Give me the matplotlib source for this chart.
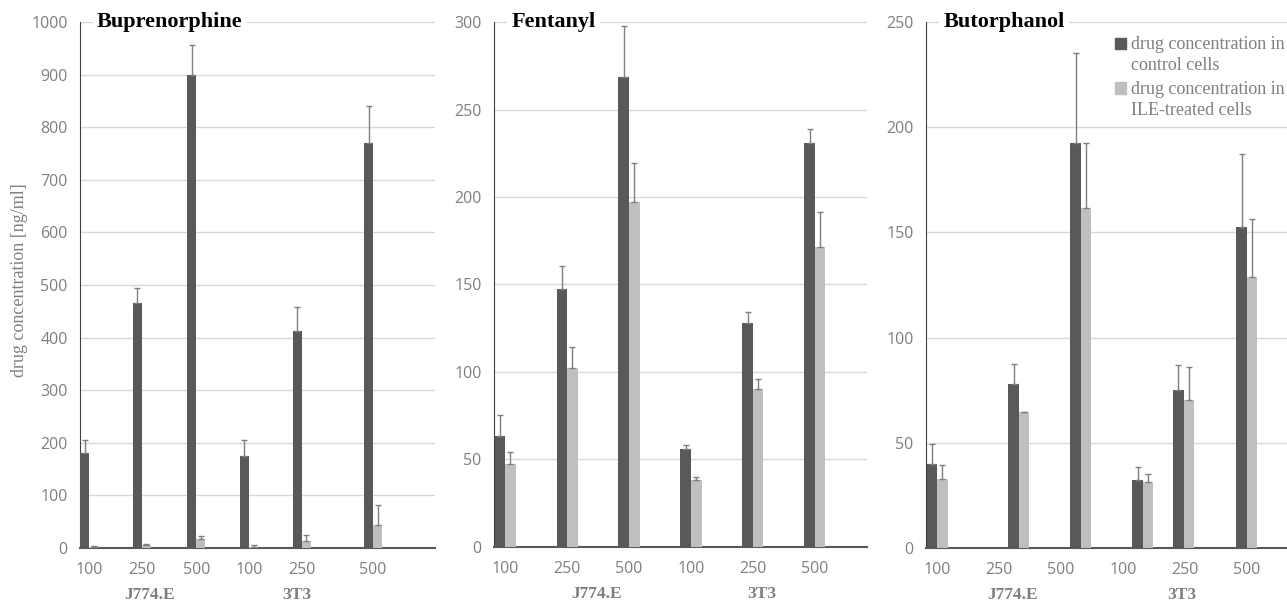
import matplotlib
matplotlib.use('Agg')
import matplotlib.pyplot as plt
from matplotlib.patches import Rectangle
import numpy as np

dose_labels = ['100', '250', '500', '100', '250', '500']
cell_lines = ['J774.E', '3T3']
series_names = ['drug concentration in\ncontrol cells',
                'drug concentration in\nILE-treated cells']

# Buprenorphine
bup_control = [180, 465, 899, 175, 412, 770]
bup_control_err = [25, 30, 57, 30, 47, 70]
bup_ile = [2, 6, 17, 2, 13, 43]
bup_ile_err = [1, 2, 5, 3, 11, 38]

# Fentanyl
fen_control = [63.5, 147.5, 268.5, 56, 128, 231]
fen_control_err = [12, 13, 29, 2, 6, 8]
fen_ile = [47.5, 102, 197, 38, 90, 171.5]
fen_ile_err = [6.5, 12.5, 22.5, 2, 6, 20]

# Butorphanol
but_control = [40, 78, 192.5, 32.5, 75, 152.5]
but_control_err = [9.5, 9.5, 43, 6, 12, 35]
but_ile = [33, 64.5, 161.5, 31.5, 70.5, 129]
but_ile_err = [6.5, 0.3, 31, 3.5, 15.5, 27.5]

DARK = '#595959'
LIGHT = '#bfbfbf'
TXT = '#7f7f7f'
SERIF = 'Liberation Serif'
SANS = 'Open Sans'

plt.rcParams['font.family'] = SANS

fig = plt.figure(figsize=(12.87, 6.03), dpi=100)

panels = [
    # name, control, err, ile, err, ymax, step, axes rect, xmax, tick x, bar x, group x
    ('Buprenorphine', bup_control, bup_control_err, bup_ile, bup_ile_err,
     1000, 100, [0.0622, 0.0912, 0.2758, 0.8723], 6.66,
     [0.17, 1.16, 2.18, 3.17, 4.16, 5.5], [0.17, 1.16, 2.18, 3.17, 4.16, 5.5],
     [1.31, 4.07]),
    ('Fentanyl', fen_control, fen_control_err, fen_ile, fen_ile_err,
     300, 50, [0.3838, 0.0929, 0.2898, 0.8706], 6.02,
     [0.18, 1.18, 2.18, 3.18, 4.18, 5.18], [0.18, 1.18, 2.18, 3.18, 4.18, 5.18],
     [1.65, 4.32]),
    ('Butorphanol', but_control, but_control_err, but_ile, but_ile_err,
     250, 50, [0.7195, 0.0912, 0.2898, 0.8723], 6.02,
     [0.18, 1.18, 2.18, 3.18, 4.18, 5.18], [0.18, 1.5, 2.5, 3.5, 4.16, 5.18],
     [1.39, 4.13]),
]

w = 0.17
for i, (name, ctl, ctl_err, ile, ile_err, ymax, step, rect, xmax,
        tick_x, bar_x, group_x) in enumerate(panels):
    ax = fig.add_axes(rect)
    bx = np.array(bar_x)
    ekw = dict(ecolor=TXT, elinewidth=1, capsize=2.5, capthick=1)
    ax.bar(bx - w / 2, ctl, w, color=DARK, zorder=3,
           yerr=[np.zeros(6), ctl_err], error_kw=ekw)
    ax.bar(bx + w / 2, ile, w, color=LIGHT, zorder=3,
           yerr=[np.zeros(6), ile_err], error_kw=ekw)

    ax.set_xlim(0, xmax)
    ax.set_ylim(0, ymax)
    ax.set_yticks(np.arange(0, ymax + 1, step))
    ax.set_xticks(tick_x)
    ax.set_xticklabels(dose_labels)
    ax.tick_params(length=0, labelsize=11.5, labelcolor=TXT)
    ax.tick_params(axis='x', pad=10)
    ax.tick_params(axis='y', pad=9)
    ax.grid(axis='y', color='#d9d9d9', linewidth=1, zorder=0)
    ax.set_axisbelow(True)
    for s in ['top', 'right']:
        ax.spines[s].set_visible(False)
    ax.spines['left'].set_color('#404040')
    ax.spines['bottom'].set_color('#595959')
    ax.spines['bottom'].set_linewidth(1.5)

    for gx, g in zip(group_x, cell_lines):
        ax.text(gx, -0.09, g, transform=ax.get_xaxis_transform(),
                ha='center', va='center', fontfamily=SERIF,
                fontweight='bold', fontsize=12.5, color=TXT)

    ax.text(0.047, 1.0, name, transform=ax.transAxes, ha='left', va='center',
            fontfamily=SERIF, fontweight='bold', fontsize=16, color='black',
            bbox=dict(facecolor='white', edgecolor='none', pad=3), zorder=5)

    if i == 2:
        # legend: square beside the first line of each entry
        for j, (lab, col) in enumerate(zip(series_names, [DARK, LIGHT])):
            yc = 0.96 - j * 0.0855
            ax.add_patch(Rectangle((0.507, yc - 0.0105), 0.0295, 0.021,
                                   transform=ax.transAxes, color=col,
                                   clip_on=False, zorder=6))
            ax.text(0.55, yc + 0.014, lab, transform=ax.transAxes,
                    ha='left', va='top', fontfamily=SERIF, fontsize=13,
                    color=TXT, linespacing=1.35, zorder=6)

fig.text(20 / 1287, 0.535, 'drug concentration [ng/ml]', rotation=90,
         ha='center', va='center', fontfamily=SERIF, fontsize=13, color=TXT)

fig.savefig('out.png', dpi=100)
